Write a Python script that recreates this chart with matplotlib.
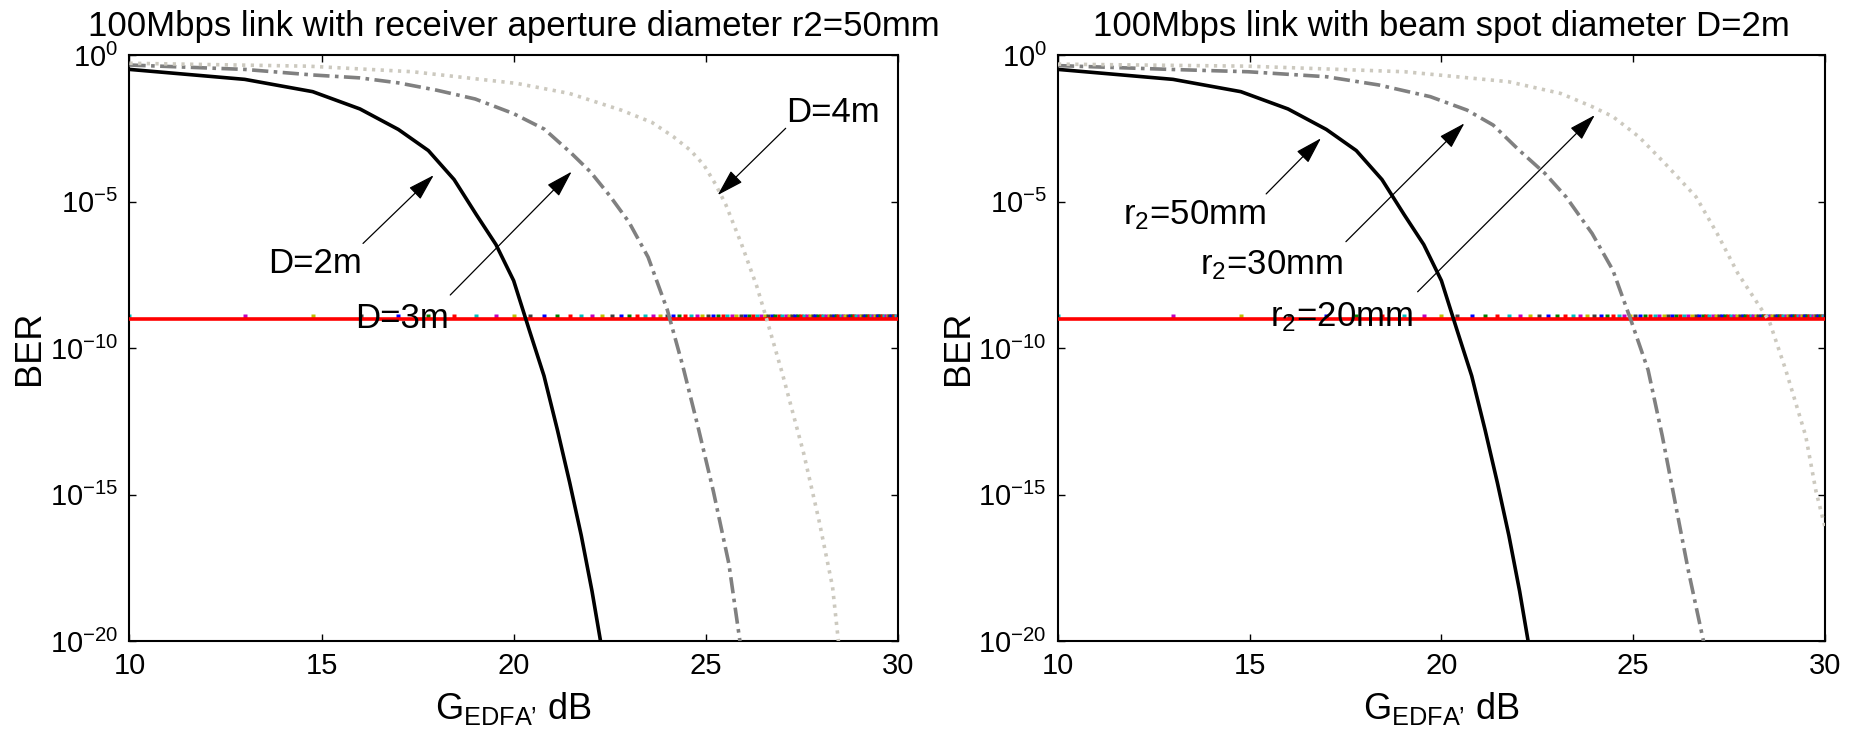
import numpy as np
import matplotlib
matplotlib.use('Agg')
import matplotlib.pyplot as plt
from matplotlib.ticker import FixedLocator, NullLocator

plt.rcParams['font.family'] = ['Liberation Sans', 'DejaVu Sans']
plt.rcParams['mathtext.fontset'] = 'custom'
plt.rcParams['mathtext.rm'] = 'Liberation Sans'
plt.rcParams['mathtext.it'] = 'Liberation Sans:italic'
plt.rcParams['mathtext.bf'] = 'Liberation Sans:bold'

# --- data (x in dB, y as log10(BER)) ---
# black solid: D=2m (left) and r2=50mm (right) are the same link
black_db = [10.0, 13.0, 14.77, 16.0, 17.0, 17.78, 18.45, 19.03, 19.54, 20.0,
            20.41, 20.79, 21.14, 21.46, 21.76, 22.04, 22.30]
black_log = [-0.49, -0.83, -1.25, -1.84, -2.54, -3.26, -4.25, -5.45, -6.47, -7.7,
             -9.4, -10.95, -12.8, -14.6, -16.4, -18.3, -20.3]

# left panel, D=3m (dash-dot) and D=4m (dotted)
d3_db = [10.0, 13.0, 14.77, 16.0, 17.0, 18.0, 19.0, 20.0, 20.8, 21.5, 22.0, 22.5,
         23.0, 23.5, 24.0, 24.4, 24.8, 25.2, 25.6, 25.9, 26.0]
d3_log = [-0.34, -0.49, -0.68, -0.78, -0.95, -1.2, -1.5, -2.0, -2.53, -3.35, -3.99, -4.8,
          -5.7, -6.9, -8.7, -10.6, -12.7, -14.9, -17.35, -20.1, -20.8]
d4_db = [10.0, 14.66, 17.37, 20.09, 21.45, 22.8, 23.6, 24.16, 24.6, 24.95, 25.25, 25.52,
         25.93, 26.33, 26.6, 27.0, 27.55, 27.95, 28.3, 28.46, 28.6]
d4_log = [-0.28, -0.38, -0.57, -0.97, -1.31, -1.88, -2.3, -2.79, -3.25, -3.75, -4.4, -5.1,
          -6.45, -7.9, -9.08, -10.9, -13.6, -15.9, -18.15, -20.1, -21.3]

# right panel, r2=30mm (dash-dot) and r2=20mm (dotted)
r30_db = [10.0, 12.92, 14.96, 17.0, 18.36, 19.71, 20.67, 21.35, 22.02, 22.7, 23.25,
          23.93, 24.47, 24.95, 25.39, 25.76, 26.1, 26.44, 26.85, 27.0]
r30_log = [-0.36, -0.49, -0.57, -0.74, -1.02, -1.42, -1.88, -2.39, -3.24, -4.04, -4.84,
           -6.09, -7.34, -9.08, -10.75, -13.0, -15.3, -17.6, -20.1, -21.0]
r20_db = [10.0, 14.96, 19.04, 21.75, 23.11, 23.93, 24.47, 25.15, 25.83, 26.64, 27.19,
          27.73, 28.55, 28.98, 29.5, 29.77, 30.0]
r20_log = [-0.31, -0.38, -0.57, -0.91, -1.31, -1.76, -2.1, -2.79, -3.7, -4.84, -6.09,
           -7.45, -9.08, -10.75, -13.0, -14.9, -16.1]

# BER target line and the marker points sitting on it (linear gain 10..1000)
ber_target = 1e-9
marker_gain_lin = np.arange(10, 1001, 10)
marker_colors = [(0, 0.75, 0.75), (0.75, 0, 0.75), (0.75, 0.75, 0), (0.25, 0.25, 0.25),
                 (0, 0, 1), (0, 0.5, 0), (1, 0, 0)]

left_title = '100Mbps link with receiver aperture diameter r2=50mm'
right_title = '100Mbps link with beam spot diameter D=2m'
xlabel = 'G$_{\\mathregular{EDFA\u2019}}$ dB'
ytick_vals = [1e-20, 1e-15, 1e-10, 1e-5, 1e0]
ytick_labels = ['$10^{-20}$', '$10^{-15}$', '$10^{-10}$', '$10^{-5}$', '$10^{0}$']
xtick_vals = [10, 15, 20, 25, 30]

# (label, text pos, arrow tail, arrow tip) in (dB, log10 BER)
left_notes = [
    ('D=2m', (14.83, -7.1), (16.08, -6.43), (17.92, -4.1)),
    ('D=3m', (17.1, -8.99), (18.35, -8.19), (21.51, -3.98)),
    ('D=4m', (28.3, -1.97), (27.08, -2.5), (25.31, -4.78)),
]
right_notes = [
    (r'r$_{\mathregular{2}}$=50mm', (13.56, -5.46), (15.43, -4.74), (16.86, -2.84)),
    (r'r$_{\mathregular{2}}$=30mm', (15.57, -7.17), (17.51, -6.37), (20.6, -2.33)),
    (r'r$_{\mathregular{2}}$=20mm', (17.4, -8.93), (19.38, -8.08), (24.0, -2.05)),
]

GRAY = (0.5, 0.5, 0.5)
LIGHT = (0.8, 0.79, 0.75)
FS_TICK = 21
FS_TITLE = 25
FS_LABEL = 26
FS_NOTE = 25
LW = 2.6


def style_axes(ax, title):
    ax.set_yscale('log')
    ax.set_xlim(10, 30)
    ax.set_ylim(1e-20, 1e0)
    ax.yaxis.set_major_locator(FixedLocator(ytick_vals))
    ax.yaxis.set_minor_locator(NullLocator())
    ax.set_yticklabels(ytick_labels)
    ax.set_xticks(xtick_vals)
    ax.tick_params(direction='in', length=5, width=1, top=True, right=True,
                   labelsize=FS_TICK, pad=8)
    for s in ax.spines.values():
        s.set_linewidth(1.5)
    ax.set_title(title, fontsize=FS_TITLE, pad=14)
    ax.set_xlabel(xlabel, fontsize=FS_LABEL, labelpad=7)
    ax.set_ylabel('BER', fontsize=FS_LABEL, labelpad=2)


def draw_target(ax):
    gdb = 10 * np.log10(marker_gain_lin)
    for i, g in enumerate(gdb):
        ax.plot(g, ber_target * 1.25, 's', ms=2.8, mec='none',
                color=marker_colors[i % len(marker_colors)], zorder=2)
    ax.axhline(ber_target, color='red', lw=2.6, zorder=3)


def draw_notes(ax, notes):
    for label, tpos, tail, tip in notes:
        ax.text(tpos[0], 10 ** tpos[1], label, fontsize=FS_NOTE, ha='center', va='center',
                zorder=5)
        ax.annotate('', xy=(tip[0], 10 ** tip[1]), xytext=(tail[0], 10 ** tail[1]),
                    arrowprops=dict(arrowstyle='-|>,head_length=0.8,head_width=0.24',
                                    color='black', lw=0.9, mutation_scale=21,
                                    shrinkA=0, shrinkB=0), zorder=5)


fig = plt.figure(figsize=(18.57, 7.32), dpi=100)
ax1 = fig.add_axes([0.0697, 0.1243, 0.4138, 0.8005])
ax2 = fig.add_axes([0.5697, 0.1243, 0.4130, 0.8005])

dashdot = (0, (4.5, 1.5, 1.0, 1.5))
dotted = (0, (0.9, 1.5))

# left panel
ax1.plot(black_db, 10.0 ** np.array(black_log), color='black', lw=LW, zorder=4)
ax1.plot(d3_db, 10.0 ** np.array(d3_log), color=GRAY, lw=LW, ls=dashdot, zorder=4)
ax1.plot(d4_db, 10.0 ** np.array(d4_log), color=LIGHT, lw=LW, ls=dotted, zorder=4)
draw_target(ax1)
draw_notes(ax1, left_notes)
style_axes(ax1, left_title)

# right panel
ax2.plot(black_db, 10.0 ** np.array(black_log), color='black', lw=LW, zorder=4)
ax2.plot(r30_db, 10.0 ** np.array(r30_log), color=GRAY, lw=LW, ls=dashdot, zorder=4)
ax2.plot(r20_db, 10.0 ** np.array(r20_log), color=LIGHT, lw=LW, ls=dotted, zorder=4)
draw_target(ax2)
draw_notes(ax2, right_notes)
style_axes(ax2, right_title)

fig.savefig('out.png', dpi=100)
plt.close(fig)
